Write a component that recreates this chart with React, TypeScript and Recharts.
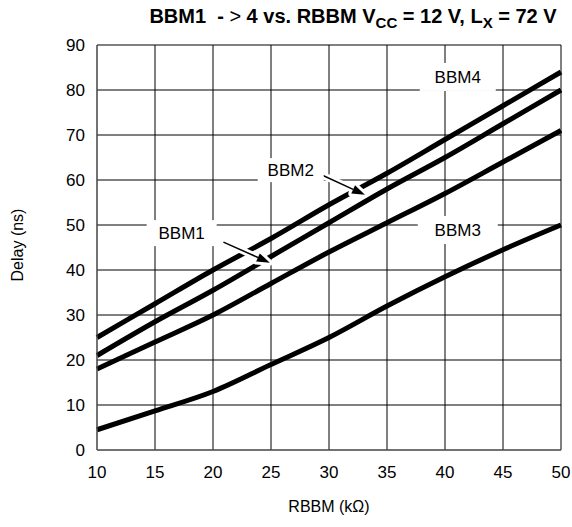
import React from 'react';
import { LineChart, Line, XAxis, YAxis, CartesianGrid, ReferenceDot, ReferenceLine } from 'recharts';

const rbbm = [10, 15, 20, 25, 30, 35, 40, 45, 50];
const bbm2 = [25, 32.5, 40, 47, 54.5, 61.5, 69, 76.5, 84];
const bbm1 = [21, 28.5, 35.5, 43, 50.5, 58, 65, 72.5, 80];
const bbm4 = [18, 24, 30, 37, 44, 50.5, 57, 64, 71];
const bbm3 = [4.5, 8.7, 13, 19, 25, 32, 38.5, 44.5, 50];

const xTicks = [10, 15, 20, 25, 30, 35, 40, 45, 50];
const yTicks = [0, 10, 20, 30, 40, 50, 60, 70, 80, 90];

// curve labels: name, position (kΩ, ns), white box size
const labels = [
  { name: 'BBM4', x: 41.1, y: 82.9, w: 76, h: 28 },
  { name: 'BBM3', x: 41.1, y: 48.9, w: 80, h: 28 },
  { name: 'BBM1', x: 17.3, y: 48.2, w: 70, h: 26 },
  { name: 'BBM2', x: 26.7, y: 62.2, w: 66, h: 24 },
];

// arrows from label to curve
const arrows = [
  { from: { x: 28.97, y: 61.6 }, to: { x: 33.1, y: 56.7 } },
  { from: { x: 20.9, y: 46.2 }, to: { x: 24.9, y: 41.6 } },
];

const data = rbbm.map((r, i) => ({ r, bbm1: bbm1[i], bbm2: bbm2[i], bbm3: bbm3[i], bbm4: bbm4[i] }));

const font = '"Liberation Sans", Arial, sans-serif';

const labelShape = (text: string, w: number, h: number) => (props: any) => (
  <g>
    <rect x={props.cx - w / 2} y={props.cy - h / 2} width={w} height={h} fill="#fff" />
    <text x={props.cx} y={props.cy + 6} textAnchor="middle" fontSize={17} fontFamily={font} fill="#000">
      {text}
    </text>
  </g>
);

const arrowShape = (props: any) => {
  const { x1, y1, x2, y2 } = props;
  const dx = x2 - x1;
  const dy = y2 - y1;
  const len = Math.sqrt(dx * dx + dy * dy);
  const ux = dx / len;
  const uy = dy / len;
  const hl = 13;
  const hw = 4.5;
  const bx = x2 - ux * hl;
  const by = y2 - uy * hl;
  const pts = `${x2},${y2} ${bx - uy * hw},${by + ux * hw} ${bx + uy * hw},${by - ux * hw}`;
  return (
    <g>
      <line x1={x1} y1={y1} x2={bx} y2={by} stroke="#fff" strokeWidth={7} />
      <polygon points={pts} fill="#fff" stroke="#fff" strokeWidth={6} strokeLinejoin="round" />
      <line x1={x1} y1={y1} x2={bx} y2={by} stroke="#000" strokeWidth={1.5} />
      <polygon points={pts} fill="#000" />
    </g>
  );
};

export default function App() {
  return (
    <div style={{ position: 'absolute', left: 0, top: 0, width: 572, height: 527, background: '#fff', fontFamily: font }}>
      <div style={{ position: 'absolute', left: 0, width: 706, top: 5, textAlign: 'center', fontSize: 20, fontWeight: 700, whiteSpace: 'nowrap' }}>
        BBM1&nbsp; - <span style={{ fontWeight: 400 }}>&gt;</span> 4 vs. RBBM V<sub style={{ fontSize: 15 }}>CC</sub> = 12 V, L<sub style={{ fontSize: 15 }}>X</sub> = 72 V
      </div>
      <div style={{ position: 'absolute', left: 18, top: 245, transform: 'translate(-50%, -50%) rotate(-90deg)', fontSize: 16, whiteSpace: 'nowrap' }}>
        Delay (ns)
      </div>
      <div style={{ position: 'absolute', left: 329, top: 507, transform: 'translate(-50%, -50%)', fontSize: 16, whiteSpace: 'nowrap' }}>
        RBBM (kΩ)
      </div>
      <LineChart width={572} height={527} data={data} margin={{ top: 45, right: 11, bottom: 0, left: 0 }}>
        <CartesianGrid stroke="#000" strokeWidth={1} />
        <XAxis
          dataKey="r"
          type="number"
          domain={[10, 50]}
          ticks={xTicks}
          tickLine={false}
          tickSize={0}
          tickMargin={16}
          axisLine={{ stroke: '#666' }}
          tick={{ fill: '#000', fontSize: 17, fontFamily: font }}
          height={77}
        />
        <YAxis
          type="number"
          domain={[0, 90]}
          ticks={yTicks}
          tickLine={false}
          tickSize={0}
          tickMargin={12}
          axisLine={{ stroke: '#666' }}
          tick={{ fill: '#000', fontSize: 17, fontFamily: font }}
          width={97}
        />
        <Line dataKey="bbm2" type="monotone" stroke="#000" strokeWidth={5} dot={false} isAnimationActive={false} />
        <Line dataKey="bbm1" type="monotone" stroke="#000" strokeWidth={5} dot={false} isAnimationActive={false} />
        <Line dataKey="bbm4" type="monotone" stroke="#000" strokeWidth={5} dot={false} isAnimationActive={false} />
        <Line dataKey="bbm3" type="monotone" stroke="#000" strokeWidth={5} dot={false} isAnimationActive={false} />
        {labels.map((l) => (
          <ReferenceDot key={l.name} x={l.x} y={l.y} r={1} shape={labelShape(l.name, l.w, l.h)} />
        ))}
        {arrows.map((a, i) => (
          <ReferenceLine key={i} segment={[a.from, a.to]} shape={arrowShape} />
        ))}
      </LineChart>
    </div>
  );
}
